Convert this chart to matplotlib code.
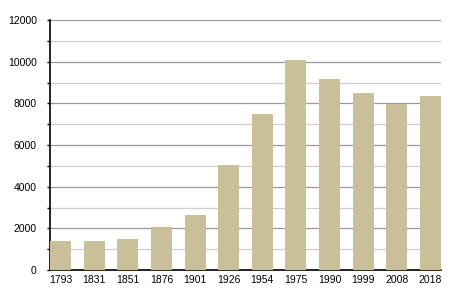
import matplotlib.pyplot as plt
from matplotlib.ticker import MultipleLocator

years = ["1793", "1831", "1851", "1876", "1901", "1926",
         "1954", "1975", "1990", "1999", "2008", "2018"]
population = [1410, 1400, 1500, 2060, 2640, 5040,
              7490, 10080, 9170, 8500, 7970, 8350]


def main():
    plt.rcParams["font.family"] = ["Liberation Sans", "DejaVu Sans"]

    fig = plt.figure(figsize=(4.5, 3), dpi=100)
    ax = fig.add_axes([50 / 450, 30 / 300, 391 / 450, 250 / 300])

    x = range(len(years))
    ax.bar(x, population, width=0.625, color="#c9bf99", zorder=3)

    ax.set_xlim(-0.3125, len(years) - 1 + 0.3125)
    ax.set_ylim(0, 12000)
    ax.set_xticks(list(x))
    ax.set_xticklabels(years)

    # major and minor grid lines
    ax.yaxis.set_major_locator(MultipleLocator(2000))
    ax.yaxis.set_minor_locator(MultipleLocator(1000))
    ax.grid(axis="y", which="major", color="#9a9a9a", linewidth=0.9, zorder=0)
    ax.grid(axis="y", which="minor", color="#cfcfcf", linewidth=0.9, zorder=0)

    for side in ["top", "right"]:
        ax.spines[side].set_visible(False)
    ax.spines["left"].set_linewidth(1.2)
    ax.spines["bottom"].set_linewidth(1.2)

    ax.tick_params(axis="x", length=0, pad=3.5, labelsize=7.5)
    ax.tick_params(axis="y", which="major", length=2.5, width=1, pad=7, labelsize=7.5)
    ax.tick_params(axis="y", which="minor", length=2, width=1)

    fig.savefig("out.png", dpi=100)


if __name__ == "__main__":
    main()
